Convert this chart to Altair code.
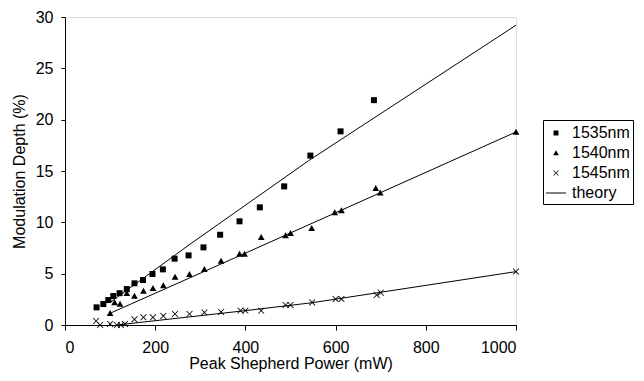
import altair as alt
import pandas as pd

# 1535nm (squares)
x1535 = [70, 85, 96, 107, 121, 137, 154, 173, 194, 217, 243, 274, 307, 344, 387, 432, 486, 544, 611, 685]
y1535 = [1.72, 2.04, 2.43, 2.82, 3.1, 3.5, 4.06, 4.38, 4.97, 5.42, 6.46, 6.78, 7.56, 8.79, 10.1, 11.46, 13.5, 16.5, 18.86, 21.9]
# 1540nm (triangles)
x1540 = [100, 110, 122, 137, 154, 174, 195, 218, 244, 276, 309, 346, 387, 398, 435, 489, 500, 547, 598, 613, 689, 699, 1000]
y1540 = [1.14, 2.17, 2.04, 3.08, 2.82, 3.3, 3.57, 3.83, 4.67, 4.94, 5.42, 6.23, 6.91, 6.91, 8.54, 8.7, 8.93, 9.41, 10.94, 11.13, 13.3, 12.88, 18.8]
# 1545nm (crosses)
x1545 = [69, 78, 100, 115, 124, 133, 154, 174, 195, 218, 244, 276, 309, 346, 389, 400, 435, 489, 500, 548, 600, 613, 691, 700, 1000]
y1545 = [0.39, 0.0, 0.1, 0.0, 0.0, 0.1, 0.55, 0.75, 0.75, 0.88, 1.07, 1.07, 1.23, 1.27, 1.4, 1.4, 1.4, 1.95, 1.95, 2.2, 2.53, 2.53, 2.92, 3.15, 5.2]

# theory curves
tx1535 = [100, 275, 540, 1000]
ty1535 = [2.2, 7.8, 16.0, 29.2]
tx1540 = [100, 400, 1000]
ty1540 = [1.14, 7.0, 18.8]
tx1545 = [115, 400, 548, 1000]
ty1545 = [0.0, 1.4, 2.17, 5.2]

series = ["1535nm", "1540nm", "1545nm", "theory"]

pts = pd.concat([
    pd.DataFrame({"x": x1535, "y": y1535, "series": "1535nm"}),
    pd.DataFrame({"x": x1540, "y": y1540, "series": "1540nm"}),
    pd.DataFrame({"x": x1545, "y": y1545, "series": "1545nm"}),
])
theory = pd.concat([
    pd.DataFrame({"x": tx1535, "y": ty1535, "curve": "a"}),
    pd.DataFrame({"x": tx1540, "y": ty1540, "curve": "b"}),
    pd.DataFrame({"x": tx1545, "y": ty1545, "curve": "c"}),
])

sqpath = "M-0.25,-0.25L0.25,-0.25L0.25,0.25L-0.25,0.25Z"
tripath = "M0,-0.28L0.28,0.22L-0.28,0.22Z"
xpath = ("M-0.27,-0.22L-0.22,-0.27L0,-0.05L0.22,-0.27L0.27,-0.22L0.05,0L0.27,0.22L0.22,0.27"
         "L0,0.05L-0.22,0.27L-0.27,0.22L-0.05,0Z")
linepath = "M-1,-0.05L1,-0.05L1,0.05L-1,0.05Z"

FONT = "Liberation Sans"
xenc = alt.X("x:Q", scale=alt.Scale(domain=[0, 1000], nice=False),
             axis=alt.Axis(values=[0, 200, 400, 600, 800, 1000], format="d", title="Peak Shepherd Power (mW)",
                           grid=False, domainColor="black", tickColor="black", tickSize=5,
                           labelFontSize=16, titleFontSize=16, labelPadding=9, titlePadding=0,
                           labelColor="black", titleColor="black", titleFontWeight="normal",
                           labelFont=FONT, titleFont=FONT))
yenc = alt.Y("y:Q", scale=alt.Scale(domain=[0, 30], nice=False),
             axis=alt.Axis(values=[0, 5, 10, 15, 20, 25, 30], title="Modulation Depth (%)",
                           grid=False, domainColor="black", tickColor="black", tickSize=4,
                           labelFontSize=16, titleFontSize=16, labelPadding=8, titlePadding=8,
                           labelColor="black", titleColor="black", titleFontWeight="normal",
                           labelFont=FONT, titleFont=FONT))

leg = alt.Legend(title=None, orient="none", legendX=478, legendY=103,
                 strokeColor="black", padding=3, labelFontSize=16,
                 labelFont=FONT, labelColor="black", symbolSize=400,
                 symbolFillColor="black", symbolStrokeColor="black",
                 symbolStrokeWidth=0, rowPadding=2, labelOffset=6)

points = alt.Chart(pts).mark_point(filled=True, opacity=1, color="black", size=576).encode(
    x=xenc, y=yenc,
    shape=alt.Shape("series:N", scale=alt.Scale(domain=series, range=[sqpath, tripath, xpath, linepath]),
                    legend=leg),
)

lines = alt.Chart(theory).mark_line(color="black", strokeWidth=1).encode(
    x="x:Q", y="y:Q", detail="curve:N"
)

chart = alt.layer(lines, points).properties(
    width=451, height=308,
    autosize=alt.AutoSizeParams(type="none"),
    padding={"left": 57, "top": 9, "right": 120, "bottom": 48},
).configure_view(stroke="black", strokeWidth=1).configure(background="white")

chart.save("out.html", embed_options={"renderer": "svg", "actions": False})
